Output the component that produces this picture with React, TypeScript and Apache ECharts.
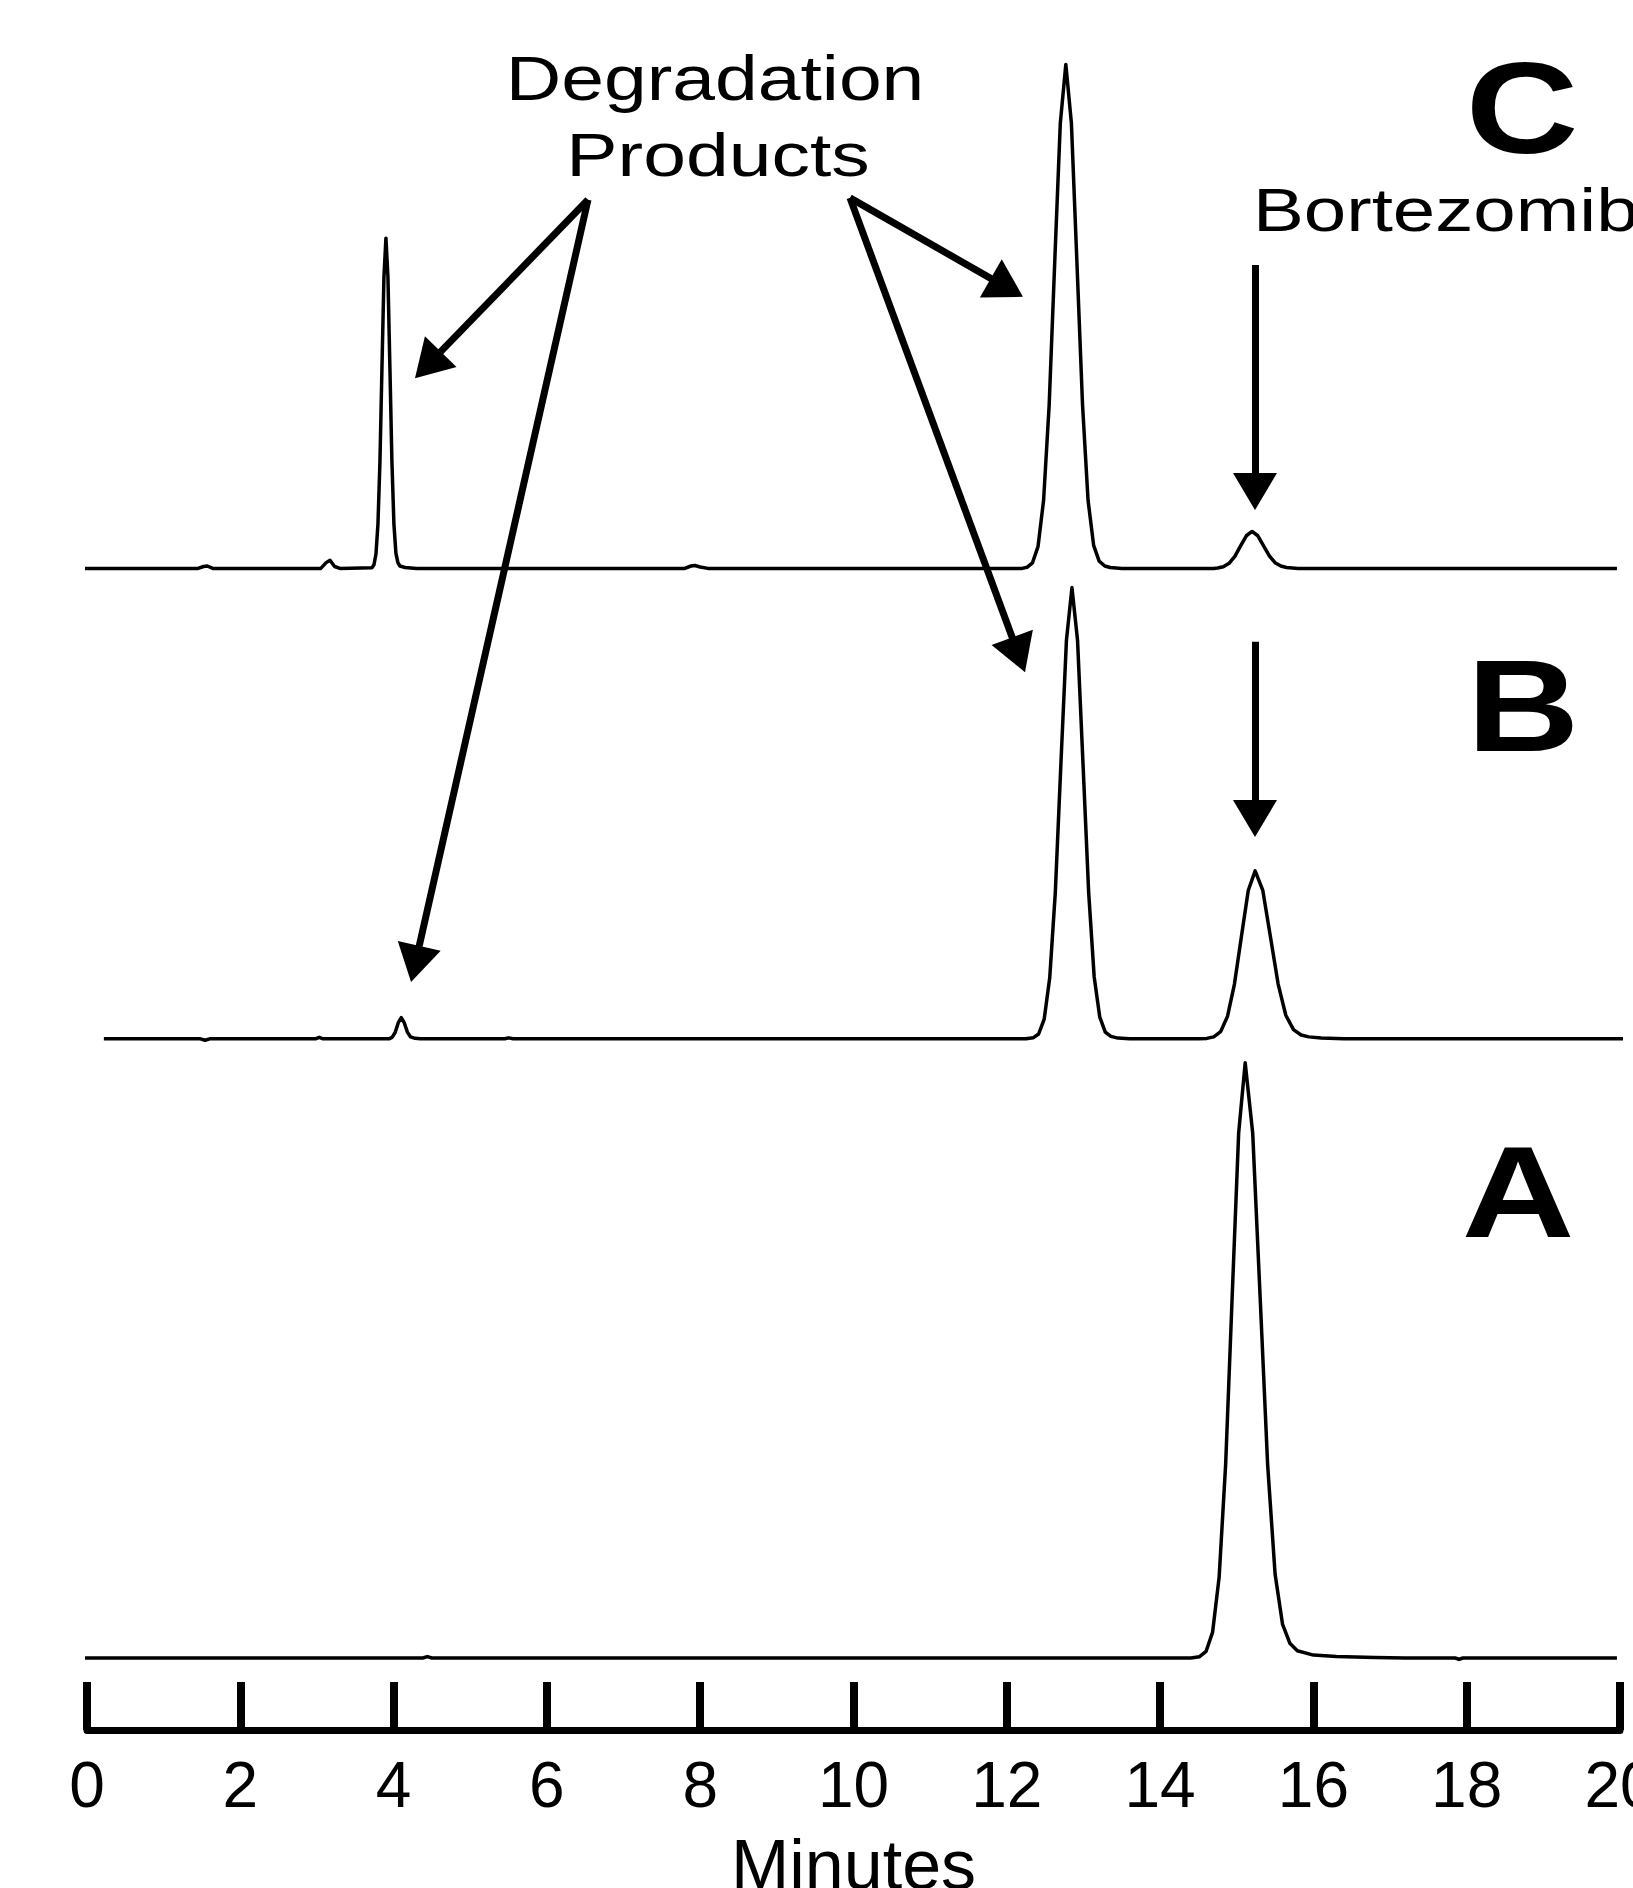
import React, { useEffect, useRef } from "react";
import * as echarts from "echarts";

// Retention time (min) vs detector signal (arbitrary units) for the three chromatograms
const TRACE_A: [number, number][] = [
  [-0.16, 0], [4.38, 0], [4.44, 0.3], [4.5, 0], [14.4, 0], [14.515, 0.27], [14.6, 1.4],
  [14.685, 5.4], [14.77, 16.8], [14.855, 40.3], [14.94, 75.2], [15.025, 109.4], [15.11, 124],
  [15.208, 109.4], [15.305, 75.2], [15.403, 40.3], [15.5, 17.5], [15.598, 7], [15.695, 3],
  [15.79, 1.5], [16.0, 0.6], [16.3, 0.3], [16.8, 0.1], [17.2, 0], [17.85, 0], [17.9, -0.3],
  [17.95, 0], [19.96, 0],
];

const TRACE_B: [number, number][] = [
  [0.22, 0], [1.48, 0], [1.54, -0.3], [1.6, 0], [2.98, 0], [3.03, 0.3], [3.08, 0], [3.94, 0],
  [3.98, 0.3], [4.02, 1.3], [4.06, 3.3], [4.1, 4.4], [4.14, 3.3], [4.18, 1.4], [4.22, 0.4],
  [4.28, 0.1], [4.35, 0], [5.45, 0], [5.5, 0.2], [5.56, 0], [12.25, 0], [12.343, 0.2],
  [12.415, 1.0], [12.488, 4.1], [12.56, 12.7], [12.633, 30.5], [12.705, 57], [12.778, 83],
  [12.85, 94], [12.923, 83], [12.995, 57], [13.068, 30.5], [13.14, 12.9], [13.213, 4.5],
  [13.285, 1.4], [13.358, 0.5], [13.45, 0.15], [13.6, 0], [14.5, 0], [14.61, 0.08], [14.7, 0.4],
  [14.79, 1.5], [14.88, 4.7], [14.97, 11.4], [15.06, 21.2], [15.15, 30.9], [15.24, 35],
  [15.34, 30.9], [15.44, 21.2], [15.54, 11.4], [15.64, 4.9], [15.74, 1.9], [15.84, 0.8],
  [15.94, 0.4], [16.1, 0.15], [16.4, 0], [20.17, 0],
];

const TRACE_C: [number, number][] = [
  [-0.03, 0], [1.45, 0], [1.52, 0.4], [1.57, 0.5], [1.64, 0], [3.05, 0], [3.12, 1.2], [3.17, 1.7],
  [3.23, 0.4], [3.3, 0], [3.72, 0.15], [3.744, 0.76], [3.77, 3.0], [3.796, 9.3], [3.822, 22.3],
  [3.848, 41.7], [3.874, 60.7], [3.9, 68.8], [3.926, 60.7], [3.952, 41.7], [3.978, 22.3],
  [4.004, 9.3], [4.03, 3.2], [4.056, 1.2], [4.082, 0.5], [4.15, 0.2], [4.3, 0], [7.8, 0],
  [7.88, 0.5], [7.93, 0.6], [8.0, 0.3], [8.1, 0], [12.2, 0], [12.263, 0.23], [12.335, 1.17],
  [12.408, 4.6], [12.48, 14.2], [12.553, 34.1], [12.625, 63.7], [12.698, 92.7], [12.77, 105],
  [12.843, 92.7], [12.915, 63.7], [12.988, 34.1], [13.06, 14.2], [13.133, 4.8], [13.205, 1.5],
  [13.278, 0.5], [13.35, 0.2], [13.5, 0], [14.7, 0], [14.75, 0.1], [14.825, 0.35], [14.9, 1.05],
  [14.975, 2.5], [15.05, 4.7], [15.125, 6.8], [15.2, 7.7], [15.275, 6.8], [15.35, 4.7],
  [15.425, 2.6], [15.5, 1.2], [15.575, 0.5], [15.65, 0.2], [15.8, 0], [19.96, 0],
];

// vertical stacking offsets of the traces
const OFFSET_A = 0;
const OFFSET_B = 129;
const OFFSET_C = 227;

// annotation arrows: [start, end] in (minutes, stacked signal)
const ARROWS: [[number, number], [number, number]][] = [
  [[6.536, 303.8], [4.447, 269.4]],
  [[6.536, 303.8], [4.281, 144.6]],
  [[9.954, 304.2], [12.001, 285.5]],
  [[9.954, 304.2], [12.154, 209.0]],
  [[15.238, 290.2], [15.238, 243.0]],
  [[15.238, 211.7], [15.238, 174.9]],
];

const X_MIN = 0;
const X_MAX = 20;
const X_INTERVAL = 2;

export default function App() {
  const ref = useRef<HTMLDivElement>(null);

  useEffect(() => {
    if (!ref.current) return;
    const chart = echarts.init(ref.current, undefined, { renderer: "svg" });

    const shift = (trace: [number, number][], off: number) =>
      trace.map(([t, v]) => [t, v + off]);

    const lineBase = {
      type: "line" as const,
      showSymbol: false,
      symbol: "none",
      clip: false,
      silent: true,
      lineStyle: { color: "#000", width: 3.5, join: "round" },
    };

    const font = "Liberation Sans, Arial, Helvetica, sans-serif";

    chart.setOption({
      animation: false,
      backgroundColor: "#fff",
      grid: {
        left: 87, right: 13, top: 2, bottom: 158,
        containLabel: false,
        outerBoundsMode: "none",
      },
      xAxis: {
        type: "value",
        min: X_MIN,
        max: X_MAX,
        interval: X_INTERVAL,
        name: "Minutes",
        nameLocation: "middle",
        nameGap: 100,
        nameTextStyle: { fontFamily: font, fontSize: 70, color: "#000" },
        axisLine: { show: true, onZero: false, lineStyle: { color: "#000", width: 7 } },
        axisTick: { show: true, inside: true, length: 48, lineStyle: { color: "#000", width: 8 } },
        axisLabel: { fontFamily: font, fontSize: 64, color: "#000", margin: 23 },
        splitLine: { show: false },
      },
      yAxis: {
        type: "value",
        min: -15,
        max: 345,
        show: false,
        splitLine: { show: false },
      },
      series: [
        { ...lineBase, name: "A", data: shift(TRACE_A, OFFSET_A) },
        { ...lineBase, name: "B", data: shift(TRACE_B, OFFSET_B) },
        {
          ...lineBase,
          name: "C",
          data: shift(TRACE_C, OFFSET_C),
          markLine: {
            silent: true,
            animation: false,
            symbol: ["none", "triangle"],
            symbolSize: 40,
            label: { show: false },
            lineStyle: { color: "#000", width: 7, type: "solid" },
            itemStyle: { color: "#000" },
            emphasis: { disabled: true },
            data: ARROWS.map(([s, e]) => [
              { coord: s },
              { coord: e, symbolSize: [44, 37] },
            ]),
          },
        },
      ],
      graphic: [
        {
          type: "text", x: 715, y: 78, scaleX: 1.22, silent: true,
          style: { text: "Degradation", fontFamily: font, fontSize: 63, fill: "#000", align: "center", verticalAlign: "middle" },
        },
        {
          type: "text", x: 718, y: 155, scaleX: 1.24, silent: true,
          style: { text: "Products", fontFamily: font, fontSize: 62, fill: "#000", align: "center", verticalAlign: "middle" },
        },
        {
          type: "text", x: 1253, y: 210, scaleX: 1.25, silent: true,
          style: { text: "Bortezomib", fontFamily: font, fontSize: 61, fill: "#000", align: "left", verticalAlign: "middle" },
        },
        {
          type: "text", x: 1522, y: 108, scaleX: 1.2, silent: true,
          style: { text: "C", fontFamily: font, fontWeight: "bold", fontSize: 130, fill: "#000", align: "center", verticalAlign: "middle" },
        },
        {
          type: "text", x: 1523, y: 706, scaleX: 1.2, silent: true,
          style: { text: "B", fontFamily: font, fontWeight: "bold", fontSize: 130, fill: "#000", align: "center", verticalAlign: "middle" },
        },
        {
          type: "text", x: 1518, y: 1192, scaleX: 1.2, silent: true,
          style: { text: "A", fontFamily: font, fontWeight: "bold", fontSize: 130, fill: "#000", align: "center", verticalAlign: "middle" },
        },
      ],
    });

    return () => chart.dispose();
  }, []);

  return (
    <div
      ref={ref}
      style={{ position: "absolute", left: 0, top: 0, width: 1633, height: 1888, background: "#fff" }}
    />
  );
}
